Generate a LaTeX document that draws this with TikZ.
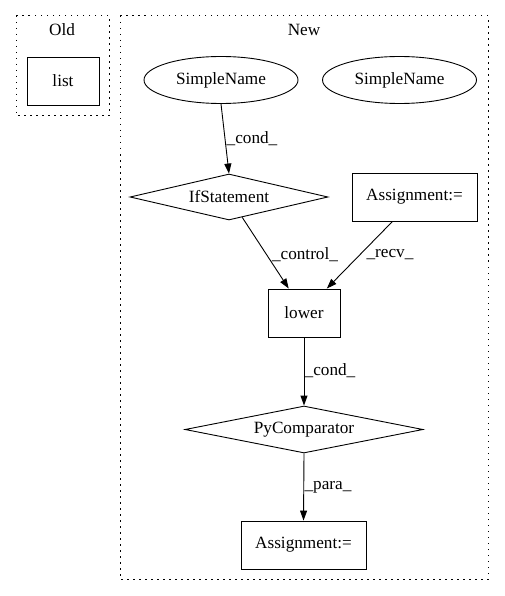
\documentclass[tikz,border=0pt]{standalone}
\usepackage{fontspec}
\setmainfont{Liberation Serif}
\usetikzlibrary{shapes.geometric,arrows.meta}
\begin{document}
\begin{tikzpicture}[x=1pt,y=-1pt,
  every node/.style={font=\fontsize{17.2}{19}\selectfont},
  cluster/.style={draw, line width=1pt, dash pattern=on 1.5pt off 4.5pt},
  boxnode/.style={draw, line width=0.9pt, rectangle, inner sep=0pt},
  ellnode/.style={draw, line width=0.9pt, ellipse, inner sep=0pt, minimum width=154pt, minimum height=47pt},
  dianode/.style={draw, line width=0.9pt, diamond, inner sep=0pt, aspect=4.3},
  edge/.style={draw, line width=0.9pt, -{Triangle[length=10pt,width=7pt]}},
  lab/.style={inner sep=0pt}]
\useasboundingbox (0,0) rectangle (504,596);
% clusters
\draw[cluster] (16,16) rectangle (109,116);
\draw[cluster] (120,16) rectangle (488,579);
\node[lab] (oldlab) at (62,30) {Old};
\node[lab] (newlab) at (304,30) {New};
% nodes
\node[boxnode, minimum width=72pt, minimum height=48pt] (list) at (63,81) {list};
\node[ellnode] (sn1) at (221,80) {SimpleName};
\node[ellnode] (sn2) at (399.5,80) {SimpleName};
\node[dianode, minimum width=198pt, minimum height=46pt] (ifs) at (229,197) {IfStatement};
\node[boxnode, minimum width=125pt, minimum height=48pt] (asg1) at (414.5,197) {Assignment:=};
\node[boxnode, minimum width=72pt, minimum height=48pt] (lower) at (304,313) {lower};
\node[dianode, minimum width=238pt, minimum height=47pt] (pyc) at (304,429.5) {PyComparator};
\node[boxnode, minimum width=125pt, minimum height=48pt] (asg2) at (303.5,545) {Assignment:=};
% edges
\draw[edge] (sn1.south) -- (ifs.north);
\node[lab] (l1) at (252,139) {\_cond\_};
\draw[edge] (ifs.-57) -- (lower.122);
\node[lab] (l2) at (305,255) {\_control\_};
\draw[edge] (asg1.-132) -- (lower.47.5);
\node[lab] (l3) at (390,255) {\_recv\_};
\draw[edge] (lower.south) -- (pyc.north);
\node[lab] (l4) at (330,371) {\_cond\_};
\draw[edge] (pyc.south) -- (asg2.north);
\node[lab] (l5) at (328,487) {\_para\_};
\end{tikzpicture}
\end{document}
